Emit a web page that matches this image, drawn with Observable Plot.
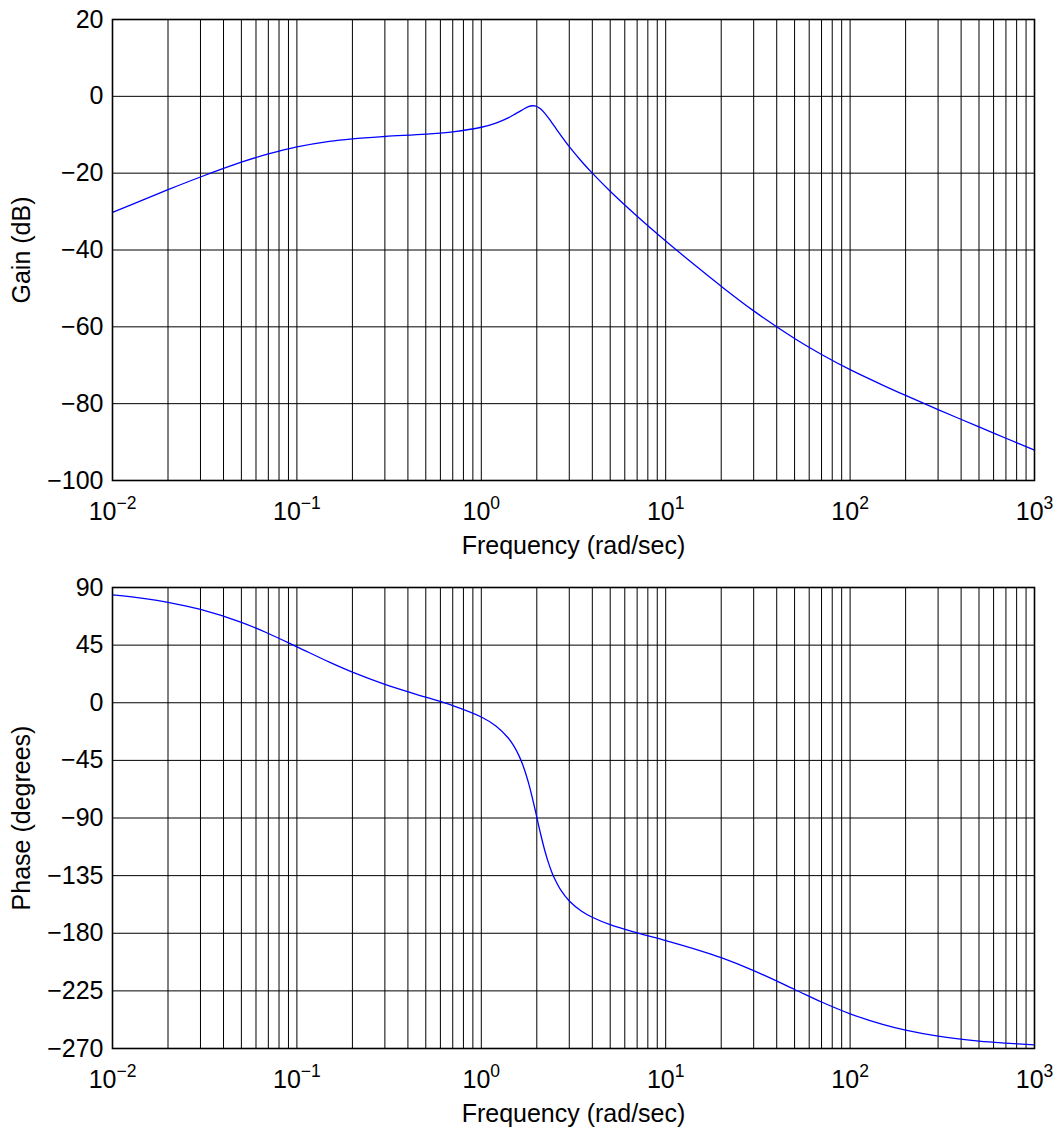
<!DOCTYPE html>
<html><head><meta charset="utf-8">
<script src="https://cdn.jsdelivr.net/npm/d3@7"></script>
<script src="https://cdn.jsdelivr.net/npm/@observablehq/plot@0.6"></script>
<style>body{margin:0;background:#fff} svg{display:block}</style>
</head><body><div id="chart"></div>
<script>
// Frequencies (rad/sec) at which the curves were read
const freq = [0.01,0.015,0.02,0.03,0.05,0.07,0.1,0.15,0.2,0.3,0.5,0.7,1,1.2,1.4,1.5,1.6,1.7,1.8,1.9,1.95,2,2.05,2.1,2.2,2.3,2.4,2.5,2.7,3,3.5,4,5,7,10,15,20,30,50,70,100,150,200,300,500,700,1000];
// Gain (dB)
const gainDb = [-30.2,-26.75,-24.3,-21.0,-17.15,-15.0,-13.15,-11.7,-11.05,-10.45,-9.85,-9.25,-8.05,-6.95,-5.6,-4.8,-4.05,-3.3,-2.7,-2.45,-2.5,-2.65,-2.95,-3.3,-4.3,-5.45,-6.7,-7.9,-10.15,-13.1,-16.95,-20.0,-24.7,-31.2,-37.65,-44.65,-49.45,-55.85,-63.05,-67.2,-71.15,-75.15,-77.85,-81.55,-86.05,-89.0,-92.1];
// Phase (degrees)
const phaseDeg = [84.2,81.3,78.4,72.9,62.8,54.1,43.7,31.7,23.9,14.4,4.35,-2.2,-11.1,-18.1,-27.5,-33.7,-41.3,-50.7,-62.2,-75.4,-82.4,-89.4,-96.3,-102.8,-114.4,-123.9,-131.5,-137.5,-146.4,-154.8,-162.8,-167.5,-173.3,-179.7,-185.7,-193.1,-199.1,-209.2,-223.9,-233.7,-242.9,-251.2,-255.7,-260.4,-264.2,-265.8,-267.1];

const gainTicks = [-100,-80,-60,-40,-20,0,20];
const phaseTicks = [-270,-225,-180,-135,-90,-45,0,45,90];
const decadeTicks = [0.01,0.1,1,10,100,1000];
const decadeLabels = ["10^−2","10^−1","10^0","10^1","10^2","10^3"];
const xTitle = "Frequency (rad/sec)";
const gainTitle = "Gain (dB)";
const phaseTitle = "Phase (degrees)";

// log grid lines: 1..9 × each decade
const gridFreqs = [];
for (let k = -2; k <= 2; k++) for (let m = 1; m <= 9; m++) gridFreqs.push(+(m * Math.pow(10, k)).toPrecision(3));
gridFreqs.push(1000);

const font = "'Liberation Sans', Arial, Helvetica, sans-serif";
const labelMap = new Map(decadeTicks.map((d, i) => [d, decadeLabels[i]]));

function panel({values, yDomain, yTicks, yLabel, height, marginTop, marginBottom}) {
  const data = freq.map((f, i) => ({f, v: values[i]}));
  const svg = Plot.plot({
    width: 1061, height, marginLeft: 112, marginRight: 27, marginTop, marginBottom,
    style: {fontFamily: font, fontSize: "25px", color: "#000", background: "#fff", overflow: "visible"},
    x: {type: "log", domain: [0.01, 1000]},
    y: {domain: yDomain},
    marks: [
      Plot.ruleX(gridFreqs, {stroke: "#000", strokeWidth: 1}),
      Plot.ruleY(yTicks, {stroke: "#000", strokeWidth: 1}),
      Plot.line(data, {x: "f", y: "v", stroke: "#0000ff", strokeWidth: 1.3, curve: "catmull-rom"}),
      Plot.frame({stroke: "#000", strokeWidth: 1.6}),
      Plot.axisX(decadeTicks, {tickFormat: d => labelMap.get(d), tickSize: 0, tickPadding: 22, fontSize: 25,
        label: xTitle, labelAnchor: "center", labelArrow: "none", labelOffset: 73}),
      Plot.axisY(yTicks, {tickFormat: d => String(d).replace("-", "−"), tickSize: 0, tickPadding: 9, fontSize: 25,
        label: yLabel, labelAnchor: "center", labelArrow: "none", labelOffset: 100})
    ]
  });
  // turn "10^e" into 10 with a superscript exponent
  d3.select(svg).selectAll("text").each(function () {
    const t = d3.select(this);
    const s = this.textContent;
    if (this.childElementCount === 0 && s.includes("^")) {
      const [base, exp] = s.split("^");
      t.text(base);
      t.append("tspan").attr("dy", "-0.64em").attr("font-size", "0.7em").text(exp);
    }
  });
  return svg;
}

const root = document.getElementById("chart");
root.append(panel({values: gainDb, yDomain: [-100, 20], yTicks: gainTicks, yLabel: gainTitle, height: 565, marginTop: 19, marginBottom: 85}));
root.append(panel({values: phaseDeg, yDomain: [-270, 90], yTicks: phaseTicks, yLabel: phaseTitle, height: 566, marginTop: 22, marginBottom: 83}));
</script>
</body></html>
